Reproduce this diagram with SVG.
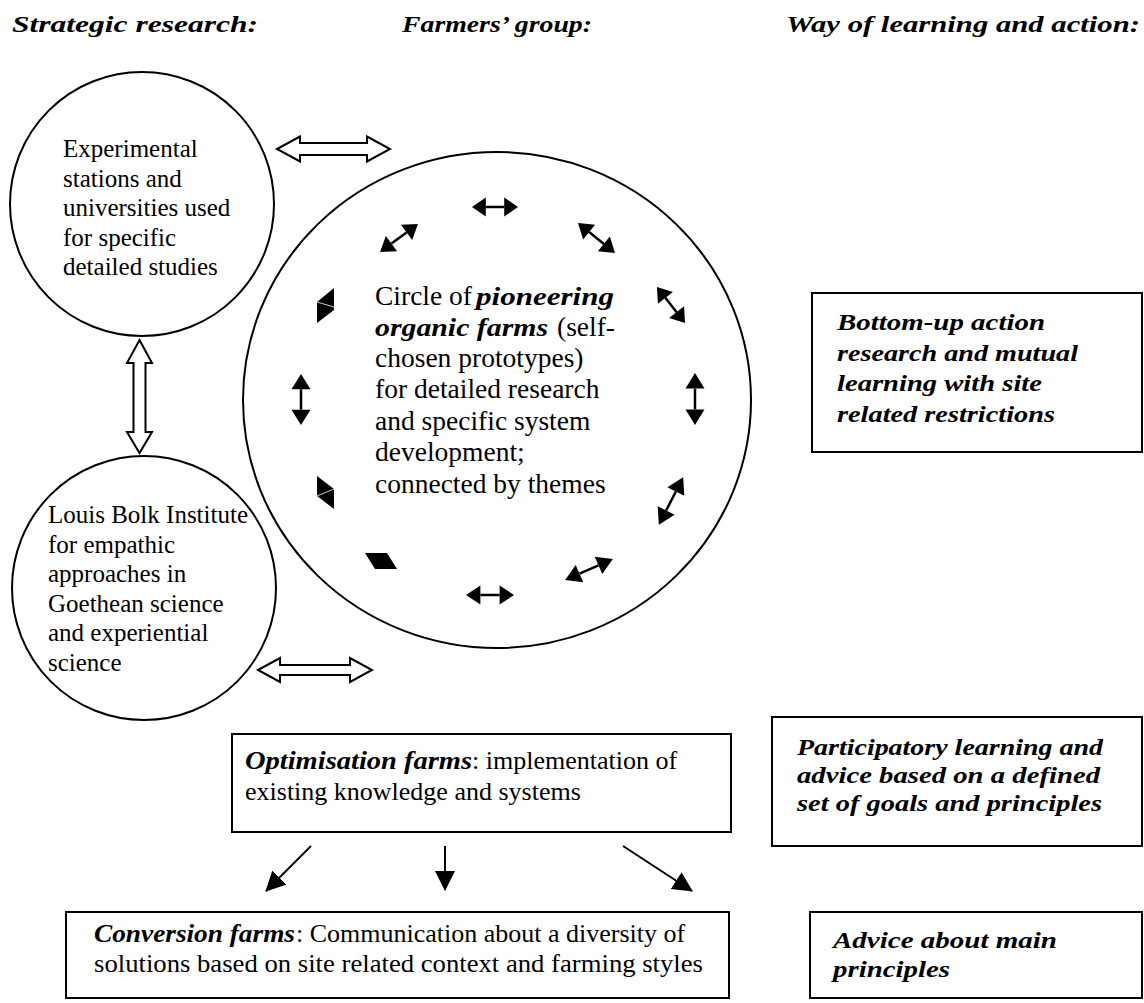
<svg xmlns="http://www.w3.org/2000/svg" xmlns:xlink="http://www.w3.org/1999/xlink" width="1144" height="1003" viewBox="0 0 1144 1003">
<style>
.ln{fill:none;stroke:#000;stroke-width:2}
.hol{fill:#fff;stroke:#000;stroke-width:2;stroke-linejoin:miter}
.blk{fill:#000}
.hd{font-family:"Liberation Serif",serif;font-weight:bold;font-style:italic;font-size:24px;fill:#000}
.bi{font-family:"Liberation Serif",serif;font-weight:bold;font-style:italic;font-size:23px;fill:#000}
.bi2{font-family:"Liberation Serif",serif;font-weight:bold;font-style:italic;font-size:25px;fill:#000}
.rg{font-family:"Liberation Serif",serif;font-size:25px;fill:#000}
.rgb{font-family:"Liberation Serif",serif;font-size:27.5px;fill:#000}
.rgx{font-family:"Liberation Serif",serif;font-size:26px;fill:#000}
</style>
<defs>
<g id="dbl">
<line x1="-10" y1="0" x2="10" y2="0" stroke="#000" stroke-width="2.5"/>
<polygon class="blk" points="-25,0 -10,-9.5 -10,9.5"/>
<polygon class="blk" points="25,0 10,-9.5 10,9.5"/>
</g>
<marker id="ah2" viewBox="0 0 20 20" refX="19" refY="10" markerWidth="20" markerHeight="20" markerUnits="userSpaceOnUse" orient="auto">
<path d="M0,0 L20,10 L0,20 z" fill="#000"/>
</marker>
</defs>

<g id="headers">
<text class="hd" x="12" y="32" textLength="246" lengthAdjust="spacingAndGlyphs">Strategic research:</text>
<text class="hd" x="402" y="32" textLength="190" lengthAdjust="spacingAndGlyphs">Farmers’ group:</text>
<text class="hd" x="786" y="32" textLength="354" lengthAdjust="spacingAndGlyphs">Way of learning and action:</text>
</g>

<g id="node-experimental">
<circle class="ln" cx="142" cy="204" r="132"/>
<text class="rg" x="63" y="157">Experimental</text>
<text class="rg" x="63" y="186.5">stations and</text>
<text class="rg" x="63" y="216">universities used</text>
<text class="rg" x="63" y="245.5">for specific</text>
<text class="rg" x="63" y="275">detailed studies</text>
</g>

<g id="node-louisbolk">
<circle class="ln" cx="144" cy="588" r="132"/>
<text class="rg" x="48" y="523">Louis Bolk Institute</text>
<text class="rg" x="48" y="552.5">for empathic</text>
<text class="rg" x="48" y="582">approaches in</text>
<text class="rg" x="48" y="611.5">Goethean science</text>
<text class="rg" x="48" y="641">and experiential</text>
<text class="rg" x="48" y="670.5">science</text>
</g>

<g id="node-pioneering">
<ellipse class="ln" cx="497" cy="400" rx="254" ry="248"/>
<text class="rgb" x="375" y="305">Circle of </text>
<text class="bi2" x="476" y="305" textLength="138" lengthAdjust="spacingAndGlyphs">pioneering</text>
<text class="bi2" x="375" y="336" textLength="173" lengthAdjust="spacingAndGlyphs">organic farms</text>
<text class="rgb" x="557" y="336">(self-</text>
<text class="rgb" x="375" y="367">chosen prototypes)</text>
<text class="rgb" x="375" y="398">for detailed research</text>
<text class="rgb" x="375" y="430">and specific system</text>
<text class="rgb" x="375" y="461">development;</text>
<text class="rgb" x="375" y="493">connected by themes</text>
</g>

<g id="node-bottomup">
<rect class="ln" x="812" y="293" width="330" height="159"/>
<text class="bi" x="837" y="330" textLength="208" lengthAdjust="spacingAndGlyphs">Bottom-up action</text>
<text class="bi" x="837" y="361" textLength="241" lengthAdjust="spacingAndGlyphs">research and mutual</text>
<text class="bi" x="837" y="391" textLength="205" lengthAdjust="spacingAndGlyphs">learning with site</text>
<text class="bi" x="837" y="422" textLength="218" lengthAdjust="spacingAndGlyphs">related restrictions</text>
</g>

<g id="node-optimisation">
<rect class="ln" x="232" y="734" width="499" height="98"/>
<text class="bi2" x="245" y="769" textLength="227" lengthAdjust="spacingAndGlyphs">Optimisation farms</text>
<text class="rgx" x="472" y="769">: implementation of</text>
<text class="rgx" x="245" y="800">existing knowledge and systems</text>
</g>

<g id="node-participatory">
<rect class="ln" x="772" y="717" width="370" height="129"/>
<text class="bi" x="797" y="755" textLength="306" lengthAdjust="spacingAndGlyphs">Participatory learning and</text>
<text class="bi" x="797" y="783" textLength="303" lengthAdjust="spacingAndGlyphs">advice based on a defined</text>
<text class="bi" x="797" y="811" textLength="305" lengthAdjust="spacingAndGlyphs">set of goals and principles</text>
</g>

<g id="node-conversion">
<rect class="ln" x="66" y="912" width="663" height="86"/>
<text class="bi2" x="94" y="942" textLength="201" lengthAdjust="spacingAndGlyphs">Conversion farms</text>
<text class="rgx" x="296" y="942">: Communication about a diversity of</text>
<text class="rgx" x="94" y="972" textLength="609" lengthAdjust="spacingAndGlyphs">solutions based on site related context and farming styles</text>
</g>

<g id="node-advice">
<rect class="ln" x="810" y="912" width="332" height="86"/>
<text class="bi" x="833" y="948" textLength="224" lengthAdjust="spacingAndGlyphs">Advice about main</text>
<text class="bi" x="833" y="977" textLength="117" lengthAdjust="spacingAndGlyphs">principles</text>
</g>

<g id="connectors">
<polygon class="hol" points="277,149 300,136.5 300,143 367,143 367,136.5 390,149 367,161.5 367,155 300,155 300,161.5"/>
<polygon class="hol" points="258,670 280,658 280,665 350,665 350,658 372,670 350,682 350,675 280,675 280,682"/>
<polygon class="hol" points="139.5,340 152,363 145.5,363 145.5,432 152,432 139.5,453 127,432 133.5,432 133.5,363 127,363"/>

<use xlink:href="#dbl" transform="translate(495,207) scale(0.92,1)"/>
<use xlink:href="#dbl" transform="translate(399,238) rotate(-36.4) scale(0.94,1)"/>
<use xlink:href="#dbl" transform="translate(596.5,238) rotate(39) scale(0.95,1)"/>
<use xlink:href="#dbl" transform="translate(671,305) rotate(52) scale(0.91,1)"/>
<use xlink:href="#dbl" transform="translate(695,399) rotate(90) scale(1.04,1)"/>
<use xlink:href="#dbl" transform="translate(671,501) rotate(-63) scale(1.07,1)"/>
<use xlink:href="#dbl" transform="translate(589,569.5) rotate(-23.6) scale(1.04,1)"/>
<use xlink:href="#dbl" transform="translate(490,595) scale(0.96,1)"/>
<use xlink:href="#dbl" transform="translate(301,399.5) rotate(90) scale(1.02,1)"/>

<polygon class="blk" points="365,553 387,553 397,569 375,569"/>
<polygon class="blk" points="334,288 334,310 317,323 317,302"/>
<line x1="317" y1="302" x2="334" y2="307" stroke="#fff" stroke-width="0.8"/>
<polygon class="blk" points="317,476 334,489 334,509 317,496"/>
<line x1="317" y1="496" x2="334" y2="489" stroke="#fff" stroke-width="0.8"/>

<line x1="311" y1="846" x2="266" y2="891" stroke="#000" stroke-width="2" marker-end="url(#ah2)"/>
<line x1="445" y1="846" x2="445" y2="890" stroke="#000" stroke-width="2" marker-end="url(#ah2)"/>
<line x1="623" y1="846" x2="692" y2="891" stroke="#000" stroke-width="2" marker-end="url(#ah2)"/>
</g>
</svg>
